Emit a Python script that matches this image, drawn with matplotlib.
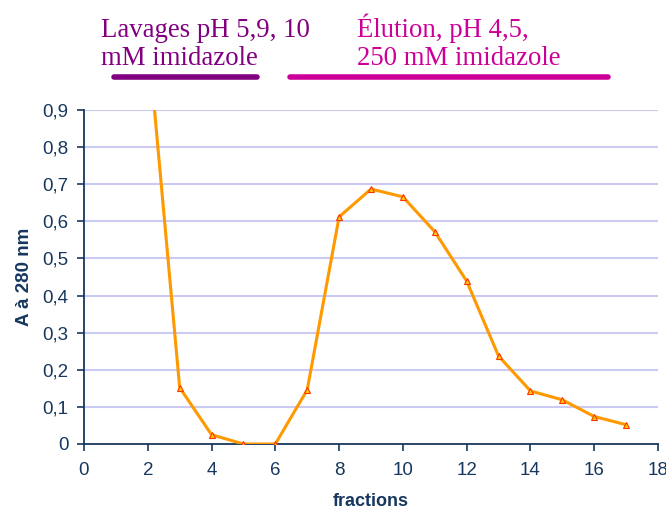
import matplotlib
matplotlib.use("Agg")
import matplotlib.pyplot as plt

# fractions et absorbance
fractions = [2, 3, 4, 5, 6, 7, 8, 9, 10, 11, 12, 13, 14, 15, 16, 17]
a280 = [1.10, 0.152, 0.025, 0.0, 0.0, 0.146, 0.612, 0.687, 0.666, 0.572,
        0.439, 0.237, 0.143, 0.119, 0.074, 0.052]
xticks = [0, 2, 4, 6, 8, 10, 12, 14, 16, 18]
yticks = [0, 0.1, 0.2, 0.3, 0.4, 0.5, 0.6, 0.7, 0.8, 0.9]
ytick_labels = ["0", "0,1", "0,2", "0,3", "0,4", "0,5", "0,6", "0,7", "0,8", "0,9"]

navy = "#17375E"
plt.rcParams["font.family"] = ["Liberation Sans", "DejaVu Sans"]

fig = plt.figure(figsize=(6.66, 5.11), dpi=100)
ax = fig.add_axes([84 / 666, 1 - 444 / 511, 574 / 666, 334 / 511])

for y in yticks[1:]:
    ax.axhline(y, color="#CACAF2", lw=1.5, zorder=0)

ax.plot(fractions, a280, color="#FF9900", lw=2.2, marker="^", ms=4.5,
        mfc="#FFCC00", mec="#FF3300", mew=0.8, clip_on=True, zorder=3)

ax.set_xlim(0, 18)
ax.set_ylim(0, 0.9)
ax.set_xticks(xticks)
ax.set_yticks(yticks)
ax.set_yticklabels(ytick_labels)
ax.spines["top"].set_visible(False)
ax.spines["right"].set_visible(False)
for s in ("left", "bottom"):
    ax.spines[s].set_color(navy)
    ax.spines[s].set_linewidth(1.3)
ax.tick_params(colors=navy, labelsize=13.5, direction="out", length=5, width=1.2)
ax.tick_params(axis="x", pad=8)
ax.tick_params(axis="y", pad=6)
ax.set_xlabel("fractions", fontsize=13, fontweight="bold", color=navy, labelpad=10)
ax.set_ylabel("A à 280 nm", fontsize=13.5, fontweight="bold", color=navy, labelpad=7)

serif = ["Liberation Serif", "DejaVu Serif"]
fig.text(101 / 666, 1 - 65 / 511, "Lavages pH 5,9, 10\nmM imidazole", family=serif,
         fontsize=19.3, color="#800080", va="baseline", ha="left", linespacing=1.15)
fig.text(357 / 666, 1 - 65 / 511, "Élution, pH 4,5,\n250 mM imidazole", family=serif,
         fontsize=19.3, color="#CC0099", va="baseline", ha="left", linespacing=1.15)

fig.add_artist(plt.Line2D([114 / 666, 257 / 666], [1 - 77 / 511] * 2, color="#800080",
                          lw=4, solid_capstyle="round"))
fig.add_artist(plt.Line2D([290 / 666, 608 / 666], [1 - 77 / 511] * 2, color="#CC0099",
                          lw=4, solid_capstyle="round"))

fig.savefig("out.png", dpi=100)
